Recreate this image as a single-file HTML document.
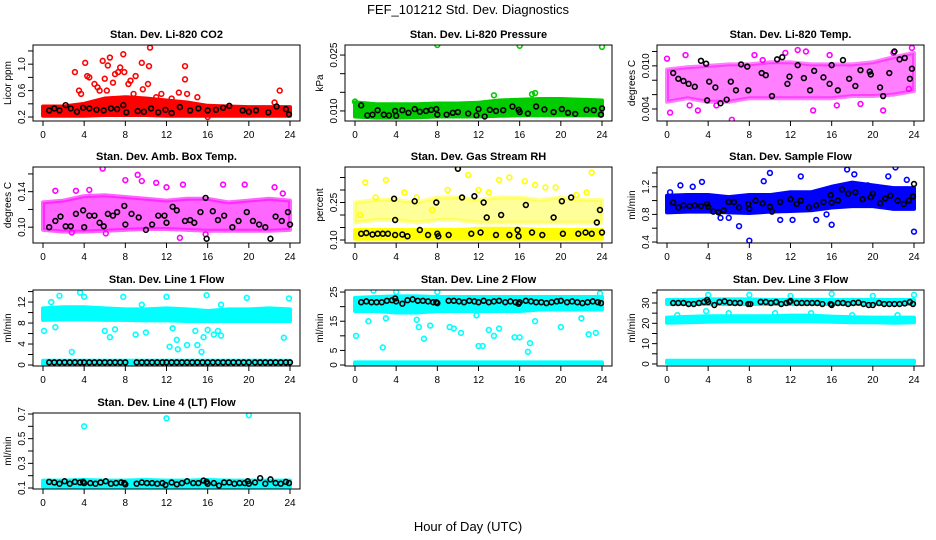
<!DOCTYPE html>
<html><head><meta charset="utf-8"><style>
body{margin:0;background:#fff}
svg{display:block}
text{font-family:"Liberation Sans",sans-serif}
</style></head><body>
<svg id="chart" width="936" height="540" xmlns="http://www.w3.org/2000/svg">
<text x="468" y="14" text-anchor="middle" font-size="13">FEF_101212  Std. Dev. Diagnostics</text>
<text x="468" y="531" text-anchor="middle" font-size="13">Hour of Day (UTC)</text>
</svg>
<script>
const bandHours=[0,2,4,6,8,10,12,14,16,18,20,22,24];
const xTicks=[0,4,8,12,16,20,24];
// P1 CO2
const p1BandLo=[0.22,0.22,0.22,0.23,0.23,0.23,0.22,0.22,0.22,0.22,0.22,0.22,0.22];
const p1BandHi=[0.36,0.36,0.40,0.48,0.50,0.48,0.45,0.42,0.37,0.36,0.35,0.35,0.35];
const p1OutX=[3.1,3.5,3.7,4.1,4.3,4.5,5,5.3,5.8,6,6.3,6.5,6.8,7,7.3,7.5,7.8,7.9,8.3,8.5,9,9.6,9.7,10.2,10.3,10.4,11.5,12.5,13.2,13.8,13.8,14,15,16,23,22.5,6.2,5.5,8.8,11];
const p1OutY=[0.88,0.6,0.55,1.02,0.82,0.8,0.7,0.65,1.05,0.78,0.98,1.1,0.72,0.85,0.88,0.95,1.15,0.88,0.7,0.75,0.82,1.02,0.62,0.7,0.97,1.25,0.55,0.48,0.57,0.97,0.77,0.55,0.5,0.2,0.6,0.42,0.6,0.6,0.55,0.5];
const p1BlkX=[0.6,1.1,1.6,2.2,2.7,3.3,3.9,4.5,5.2,5.9,6.6,7.2,7.8,8.1,9.2,9.8,10.5,11.2,11.9,12.5,13.3,14.3,15.1,16,16.8,17.5,18.1,19.4,20,20.7,21.9,22.7,23.6,23.9];
const p1BlkY=[0.3,0.33,0.3,0.38,0.33,0.28,0.34,0.33,0.31,0.3,0.33,0.32,0.38,0.27,0.29,0.28,0.33,0.27,0.31,0.26,0.35,0.3,0.33,0.3,0.31,0.34,0.37,0.3,0.28,0.3,0.27,0.36,0.32,0.24];
// P2 Pressure
const p2BandLo=[0.0085,0.0082,0.0082,0.0083,0.0085,0.0085,0.0085,0.0087,0.0088,0.0088,0.0088,0.0088,0.0088];
const p2BandHi=[0.0123,0.0118,0.0118,0.0118,0.012,0.012,0.0122,0.0128,0.013,0.0132,0.0132,0.013,0.0128];
const p2OutX=[0,8,16,24,17.5,13.5,17.2];
const p2OutY=[0.0125,0.0277,0.0275,0.0272,0.0148,0.0142,0.0145];
const p2BlkX=[0.6,1.2,1.7,2.2,2.8,3.3,3.9,4,4.6,5.2,5.8,6.3,6.9,7.4,7.9,8,8.9,9.5,10,11,11.8,12,12.6,13.1,13.7,14.4,15.3,15.9,16,16.8,17.6,18.4,19.3,20.1,20.7,21.4,22.5,23.2,23.9,24];
const p2BlkY=[0.0115,0.0088,0.009,0.0102,0.009,0.0088,0.01,0.0087,0.0102,0.0095,0.0105,0.0098,0.01,0.0103,0.0105,0.009,0.009,0.0095,0.0097,0.0093,0.0088,0.0105,0.0085,0.0103,0.01,0.0102,0.0112,0.0103,0.0097,0.0093,0.0112,0.0104,0.0097,0.0105,0.0095,0.0092,0.0103,0.0102,0.009,0.0107];
// P3 Li-820 Temp
const p3BandLo=[0.005,0.0055,0.005,0.005,0.0055,0.0055,0.0055,0.0055,0.0055,0.0058,0.0058,0.006,0.0065];
const p3BandHi=[0.0095,0.0098,0.01,0.0102,0.0102,0.0105,0.0105,0.0102,0.0102,0.0102,0.0105,0.0112,0.0118];
const p3OutX=[6.3,0.3,3,14.2,21,12.7,13.5,23.8,8.5,11.5,4.8,2.2,16.5,18.8,0,1.8,9.3,15.8,22,23.5];
const p3OutY=[0.0025,0.0035,0.0038,0.0038,0.0038,0.0122,0.012,0.0125,0.0115,0.0118,0.0045,0.0045,0.0045,0.0047,0.011,0.0115,0.0108,0.0115,0.0118,0.0068];
const p3BlkX=[0.6,1.1,1.6,2.1,2.7,3.3,3.8,3.9,4.1,4.7,5.2,5.8,6.2,6.7,7.2,7.8,7.9,9.2,9.6,10.2,10.7,11.2,11.7,11.9,12.7,13.3,13.9,14.3,15.2,15.8,16,16.6,17.1,17.7,18.3,18.8,19.7,19.8,20.7,21,21.6,22.1,22.6,23.1,23.6,23.8];
const p3BlkY=[0.009,0.0082,0.0079,0.0075,0.0071,0.0107,0.0103,0.0052,0.0078,0.007,0.0048,0.0053,0.0078,0.0066,0.0102,0.0099,0.0066,0.009,0.0087,0.0058,0.0109,0.0112,0.0075,0.0085,0.0101,0.0083,0.0066,0.0093,0.0084,0.0075,0.0101,0.0066,0.0108,0.0082,0.0072,0.0094,0.0092,0.0088,0.007,0.0058,0.009,0.012,0.0109,0.0111,0.0082,0.0096];
// P4 Amb Box Temp
const p4BandLo=[0.097,0.095,0.095,0.096,0.097,0.098,0.098,0.097,0.096,0.096,0.096,0.096,0.097];
const p4BandHi=[0.128,0.13,0.135,0.136,0.134,0.132,0.13,0.132,0.132,0.128,0.13,0.132,0.13];
const p4OutX=[5.8,9.2,8,1.2,13.6,15.8,11,19.6,22.5,4.5,12,13.3,3.2,9.6,17.5,23.3,6.1,2.8];
const p4OutY=[0.166,0.159,0.153,0.141,0.148,0.092,0.15,0.148,0.145,0.142,0.145,0.088,0.141,0.152,0.148,0.138,0.093,0.094];
const p4BlkX=[0.6,1.2,1.7,2.2,2.7,3.2,3.9,4,4.5,5,5.5,5.9,6.3,6.8,7.2,7.9,8,8.6,9.3,10,10.6,11.2,11.8,12,12.6,13,13.8,14.3,14.7,15.3,15.8,15.9,16.5,17,17.6,18.4,19,19.8,20.4,21,21.6,22.1,22.6,23.2,23.8,24];
const p4BlkY=[0.1,0.107,0.112,0.101,0.101,0.115,0.119,0.1,0.113,0.113,0.105,0.101,0.115,0.113,0.117,0.124,0.103,0.115,0.111,0.097,0.103,0.113,0.113,0.105,0.123,0.119,0.107,0.108,0.105,0.117,0.133,0.087,0.118,0.108,0.113,0.1,0.107,0.117,0.107,0.103,0.1,0.087,0.112,0.107,0.117,0.103];
// P5 Gas Stream RH
const p5BandLo=[0.105,0.105,0.105,0.105,0.105,0.105,0.105,0.105,0.105,0.105,0.105,0.105,0.105];
const p5BandHi=[0.14,0.14,0.14,0.14,0.14,0.14,0.145,0.145,0.145,0.14,0.14,0.14,0.14];
const p5Band2Lo=[0.17,0.18,0.18,0.17,0.18,0.18,0.17,0.17,0.17,0.17,0.17,0.17,0.17];
const p5Band2Hi=[0.25,0.26,0.26,0.25,0.27,0.27,0.26,0.27,0.27,0.26,0.27,0.26,0.26];
const p5OutX=[1,3,10,11,14,15,16.5,23,18.5,0.5,2,4.8,6,7.5,9,12,13,17.5,19.5,21.5,22.5];
const p5OutY=[0.33,0.34,0.385,0.36,0.34,0.35,0.335,0.37,0.31,0.2,0.27,0.29,0.27,0.22,0.3,0.3,0.29,0.32,0.31,0.28,0.29];
const p5BlkX=[0.6,1.1,1.7,2.2,2.7,3.2,3.8,3.9,3.9,4.6,5.1,5.8,6.3,7.1,7.9,8,8.1,9.1,10,10.4,11.3,11.6,12.2,12.5,12.8,13.7,14.2,15,15.8,15.9,16.6,17.2,18.2,19.3,20.1,20.2,21,21.7,22.4,23,23.5,23.8,24];
const p5BlkY=[0.125,0.128,0.122,0.125,0.125,0.125,0.265,0.18,0.12,0.122,0.115,0.255,0.14,0.12,0.25,0.125,0.115,0.12,0.385,0.27,0.125,0.275,0.13,0.25,0.19,0.12,0.2,0.12,0.14,0.115,0.24,0.13,0.12,0.19,0.255,0.125,0.27,0.125,0.13,0.125,0.17,0.22,0.13];
// P6 Sample Flow
const p6BandLo=[0.83,0.84,0.84,0.83,0.82,0.84,0.85,0.86,0.9,0.92,0.92,0.88,0.88];
const p6BandHi=[1.07,1.08,1.08,1.05,1.08,1.08,1.12,1.12,1.2,1.26,1.22,1.18,1.18];
const p6OutX=[8,24,16,7,11,14.5,10,17.5,22.2,21.5,3.4,6,12.2,0.3,1.3,9.4,13,18.2,19.5,23.3,2.5,5.2,15.5];
const p6OutY=[0.42,0.55,0.65,0.63,0.72,0.72,1.4,1.45,1.48,1.35,1.27,0.75,0.72,1.12,1.22,1.28,1.35,1.38,1.22,1.3,1.2,0.75,0.8];
const p6BlkX=[0.6,1.1,1.6,2.2,2.7,3.3,3.9,4,4.5,5,5.5,6,6.5,7,7.9,8,8.6,9.3,10,10.2,11,12,12.6,13,13.8,14.5,15.2,15.9,16,16.6,17,17.6,18.3,19,19.8,20,20.7,21.2,21.7,22.4,23,23.5,23.9,24];
const p6BlkY=[0.97,0.9,0.93,0.92,0.93,0.92,0.95,0.91,0.84,0.83,0.86,0.98,0.98,0.9,0.95,0.88,1.0,0.96,0.91,0.84,0.98,1.02,0.95,1.0,0.9,0.93,0.98,1.08,0.97,1.0,1.16,1.1,1.12,1.02,1.05,1.1,0.96,1.03,1.07,1.0,0.95,1.0,1.06,1.24];
// P7 Line 1 Flow
const p7BandLo=[8.6,8.7,8.7,8.6,8.6,8.5,8.5,8.4,8.4,8.4,8.4,8.4,8.4];
const p7BandHi=[10.8,11,11,10.8,10.6,10.6,10.8,10.6,10.3,10.6,10.6,10.8,10.6];
const p7Band2Lo=[0.2,0.2,0.2,0.2,0.2,0.2,0.2,0.2,0.2,0.2,0.2,0.2,0.2];
const p7Band2Hi=[0.8,0.8,0.8,0.8,0.8,0.8,0.8,0.8,0.8,0.8,0.8,0.8,0.8];
const p7OutX=[0.1,0.8,1.2,1.6,2.8,3.6,4,6,6.5,7,7.8,9,9.6,10,12,12.3,12.6,13,13.1,14,14.8,15,15.4,15.6,15.9,16,16.6,17,17.3,19.8,23.4,23.9,17.3];
const p7OutY=[6.5,12,7.2,13.2,2.5,13.8,13,6.5,5.3,6.8,13,5.8,11.5,6.2,13,3.5,7,4.8,3,3.8,6.5,3.8,2.5,5.3,13.3,6.7,5.8,6.5,5.6,12.8,5.2,12.7,11.5];
const p7BlkX=[0.6,1.1,1.6,2.1,2.6,3.1,3.6,4,4.5,5,5.5,6,6.5,7,7.5,8,9.1,9.6,10.1,10.6,11.1,11.6,12,12.5,13,13.5,14,14.5,15,15.5,16,16.5,17,17.5,18,18.5,19,19.5,20,20.6,21.1,21.6,22.1,22.6,23.1,23.6,24];
const p7BlkY=[0.5,0.5,0.5,0.5,0.5,0.5,0.5,0.5,0.5,0.5,0.5,0.5,0.5,0.5,0.5,0.5,0.5,0.5,0.5,0.5,0.5,0.5,0.5,0.5,0.5,0.5,0.5,0.5,0.5,0.5,0.5,0.5,0.5,0.5,0.5,0.5,0.5,0.5,0.5,0.5,0.5,0.5,0.5,0.5,0.5,0.5,0.5];
// P8 Line 2 Flow
const p8BandLo=[18.5,18.5,18,18,18.5,18.5,18.5,18.5,18.5,19,19,19,19];
const p8BandHi=[23,23.3,23.5,23.5,23.3,23.3,23.3,23.3,23.3,23.3,23.3,23.3,23.3];
const p8Band2Lo=[-0.1,-0.1,-0.1,-0.1,-0.1,-0.1,-0.1,-0.1,-0.1,-0.1,-0.1,-0.1,-0.1];
const p8Band2Hi=[0.9,0.9,0.9,0.9,0.9,0.9,0.9,0.9,0.9,0.9,0.9,0.9,0.9];
const p8OutX=[0.1,1.3,1.8,2.7,3,4,6,6.2,6.7,7.3,8,9.2,9.6,10.3,11.8,12,12.4,13,13.5,14,15.5,16,16.8,17,17.5,22,23.4,23.8,22.7,20];
const p8OutY=[10,15,25.5,6,16,25,15.5,13,9,13.5,25,13,12.5,11,17,6.5,6.5,12,10,12.5,9.5,9.5,4.5,7.5,15,16,11,24.5,10.5,13];
const p8BlkX=[0.6,1.1,1.6,2.1,2.6,3.1,3.6,3.9,4,4.6,5.1,5.6,6.1,6.6,7.1,7.6,7.9,8,9.1,9.6,10.1,10.6,11.1,11.6,12,12.5,13,13.5,14,14.6,15.1,15.6,15.9,16,16.6,17.1,17.6,18.1,18.6,19.1,19.6,20,20.6,21.1,21.6,22.1,22.6,23.1,23.6,23.9];
const p8BlkY=[21.5,21.8,21.5,21.5,21.5,22,22.2,22.8,21.8,21,22.2,22.5,22,22,21.8,21.5,21.5,21.2,22,22,21.8,21.5,22,21.8,21.5,22,21.5,21.8,22,21.5,21.8,21.5,21,21.5,22,21.8,21.5,21.5,21.2,21.5,21.8,22,21.5,21.8,21.5,21.2,21.5,21.8,21.5,21.2];
// P9 Line 3 Flow
const p9BandLo=[29.5,29.5,29.5,29.5,29.5,29.5,29.5,29.5,29.5,29.5,29.5,29.5,29.5];
const p9BandHi=[31.5,31.5,31.8,31.8,31.8,31.5,31.5,31.5,31.5,31.5,31.5,31.5,31.5];
const p9Band2Lo=[20.3,20.5,20.8,21,21,21,21,21,20.8,20.5,20.5,20.3,20.5];
const p9Band2Hi=[22.8,23.2,23.5,23.5,23.5,23.5,23.8,23.8,23.3,23,22.8,22.8,22.8];
const p9Band3Lo=[0.5,0.5,0.5,0.5,0.5,0.5,0.5,0.5,0.5,0.5,0.5,0.5,0.5];
const p9Band3Hi=[1.6,1.6,1.6,1.6,1.6,1.6,1.6,1.6,1.6,1.6,1.6,1.6,1.6];
const p9OutX=[4,8,12,16,20,24,1,6,10.5,14,18,22.4,3.8];
const p9OutY=[34,34,33.5,34.5,33.5,34,24,25,25,25,24,24,26];
const p9BlkX=[0.6,1.1,1.6,2.1,2.6,3.1,3.6,3.9,4,4.6,5.1,5.6,6.1,6.6,7.1,7.9,8.1,9.1,9.6,10.1,10.6,11.1,11.6,11.9,12,12.6,13.1,13.6,14.1,14.6,15.1,15.9,16,16.6,17.1,17.6,18.1,18.6,19.1,19.6,20,20.6,21.1,21.6,22.1,22.6,23.1,23.6,23.9];
const p9BlkY=[30,30,30,29.5,29.5,30,30.5,31.5,30.5,29,30.5,30.8,30.2,30,30,29.5,29.5,30.5,30.5,30,30.5,29.5,30,30.5,31,30,30,30,30,30,29.5,29.5,29,30,30,29.5,30,30.2,29.5,29,29,30,29.5,29.5,29.5,29.5,29.8,30.5,29.5];
// P10 Line 4 (LT) Flow
const p10BandLo=[0.11,0.11,0.11,0.11,0.11,0.11,0.11,0.11,0.11,0.11,0.11,0.11,0.11];
const p10BandHi=[0.16,0.16,0.165,0.16,0.16,0.165,0.16,0.16,0.165,0.16,0.16,0.16,0.16];
const p10OutX=[4,12,20];
const p10OutY=[0.6,0.665,0.69];
const p10BlkX=[0.6,1.1,1.6,2.1,2.6,3.1,3.6,3.9,4,4.6,5.1,5.6,6.1,6.6,7.1,7.6,7.9,8,9.1,9.6,10.1,10.6,11.1,11.6,11.9,12.5,13,13.5,14,14.6,15.1,15.6,15.9,16,16.6,17.1,17.6,18.1,18.6,19.1,19.6,19.9,20,20.6,21.1,21.6,22.1,22.6,23.1,23.6,23.9];
const p10BlkY=[0.15,0.145,0.135,0.155,0.135,0.15,0.145,0.15,0.14,0.14,0.135,0.145,0.155,0.135,0.14,0.145,0.14,0.13,0.135,0.145,0.14,0.14,0.135,0.14,0.125,0.145,0.13,0.14,0.155,0.14,0.14,0.16,0.15,0.135,0.14,0.12,0.145,0.145,0.135,0.14,0.14,0.155,0.135,0.145,0.18,0.135,0.17,0.14,0.135,0.15,0.14];

const panels=[
 {name:'co2',title:'Stan. Dev. Li-820 CO2',ylab:'Licor ppm',col:0,row:0,color:'#ff0000',ymin:0.14,ymax:1.29,ticks:[0.2,0.4,0.6,0.8,1.0,1.2],labels:['0.2','','0.6','','1.0',''],bands:[[p1BandLo,p1BandHi]],outX:p1OutX,outY:p1OutY,blkX:p1BlkX,blkY:p1BlkY},
 {name:'pressure',title:'Stan. Dev. Li-820 Pressure',ylab:'kPa',col:1,row:0,color:'#00cc00',ymin:0.0073,ymax:0.0277,ticks:[0.010,0.015,0.020,0.025],labels:['0.010','','','0.025'],bands:[[p2BandLo,p2BandHi]],outX:p2OutX,outY:p2OutY,blkX:p2BlkX,blkY:p2BlkY},
 {name:'li820-temp',title:'Stan. Dev. Li-820 Temp.',ylab:'degrees C',col:2,row:0,color:'#ff00ff',ymin:0.00233,ymax:0.0129,ticks:[0.004,0.006,0.008,0.010,0.012],labels:['0.004','','','0.010',''],bands:[[p3BandLo,p3BandHi]],outX:p3OutX,outY:p3OutY,blkX:p3BlkX,blkY:p3BlkY,bandOp:0.5},
 {name:'amb-box-temp',title:'Stan. Dev. Amb. Box Temp.',ylab:'degrees C',col:0,row:1,color:'#ff00ff',ymin:0.0822,ymax:0.1678,ticks:[0.10,0.12,0.14,0.16],labels:['0.10','','0.14',''],bands:[[p4BandLo,p4BandHi]],outX:p4OutX,outY:p4OutY,blkX:p4BlkX,blkY:p4BlkY,bandOp:0.6},
 {name:'gas-rh',title:'Stan. Dev. Gas Stream RH',ylab:'percent',col:1,row:1,color:'#ffff00',ymin:0.088,ymax:0.392,ticks:[0.10,0.15,0.20,0.25,0.30,0.35],labels:['0.10','','','0.25','',''],bands:[[p5BandLo,p5BandHi],[p5Band2Lo,p5Band2Hi,0.4]],outX:p5OutX,outY:p5OutY,blkX:p5BlkX,blkY:p5BlkY},
 {name:'sample-flow',title:'Stan. Dev. Sample Flow',ylab:'ml/min',col:2,row:1,color:'#0000ff',ymin:0.386,ymax:1.486,ticks:[0.4,0.6,0.8,1.0,1.2,1.4],labels:['0.4','','0.8','','1.2',''],bands:[[p6BandLo,p6BandHi]],outX:p6OutX,outY:p6OutY,blkX:p6BlkX,blkY:p6BlkY},
 {name:'line1-flow',title:'Stan. Dev. Line 1 Flow',ylab:'ml/min',col:0,row:2,color:'#00ffff',ymin:-0.19,ymax:14.3,ticks:[0,2,4,6,8,10,12,14],labels:['0','','4','','8','','12',''],bands:[[p7BandLo,p7BandHi],[p7Band2Lo,p7Band2Hi]],outX:p7OutX,outY:p7OutY,blkX:p7BlkX,blkY:p7BlkY},
 {name:'line2-flow',title:'Stan. Dev. Line 2 Flow',ylab:'ml/min',col:1,row:2,color:'#00ffff',ymin:-0.34,ymax:25.7,ticks:[0,5,10,15,20,25],labels:['0','5','','15','','25'],bands:[[p8BandLo,p8BandHi],[p8Band2Lo,p8Band2Hi]],outX:p8OutX,outY:p8OutY,blkX:p8BlkX,blkY:p8BlkY},
 {name:'line3-flow',title:'Stan. Dev. Line 3 Flow',ylab:'ml/min',col:2,row:2,color:'#00ffff',ymin:-1,ymax:36.4,ticks:[0,5,10,15,20,25,30,35],labels:['0','','10','','20','','30',''],bands:[[p9BandLo,p9BandHi],[p9Band2Lo,p9Band2Hi],[p9Band3Lo,p9Band3Hi]],outX:p9OutX,outY:p9OutY,blkX:p9BlkX,blkY:p9BlkY},
 {name:'line4-flow',title:'Stan. Dev. Line 4 (LT) Flow',ylab:'ml/min',col:0,row:3,color:'#00ffff',ymin:0.092,ymax:0.708,ticks:[0.1,0.2,0.3,0.4,0.5,0.6,0.7],labels:['0.1','','0.3','','0.5','','0.7'],bands:[[p10BandLo,p10BandHi]],outX:p10OutX,outY:p10OutY,blkX:p10BlkX,blkY:p10BlkY}
];
const NS='http://www.w3.org/2000/svg';
const svg=document.getElementById('chart');
const rowTops=[45,167,290,413];
function mk(tag,attrs,parent){const e=document.createElementNS(NS,tag);for(const k in attrs)e.setAttribute(k,attrs[k]);parent.appendChild(e);return e;}
panels.forEach(p=>{
 const L=33+312*p.col,R=L+267,T=rowTops[p.row],B=T+76;
 const xs=h=>L+10+h*247/24;
 const ys=v=>B-(v-p.ymin)/(p.ymax-p.ymin)*76;
 const g=mk('g',{},svg);
 
 
 const clip=mk('clipPath',{id:'c-'+p.name},g);
 mk('rect',{x:L,y:T,width:267,height:76},clip);
 const t=mk('text',{x:(L+R)/2,y:T-7,'text-anchor':'middle','font-size':'11','font-weight':'bold'},g);
 t.textContent=p.title;
 
 
 const yl=mk('text',{x:0,y:0,transform:`translate(${L-22},${(T+B)/2}) rotate(-90)`,'text-anchor':'middle','font-size':'10'},g);
 yl.textContent=p.ylab;
 
 
 const plot=mk('g',{'clip-path':`url(#c-${p.name})`},g);
 p.bands.forEach(b=>{
  const lo=b[0],hi=b[1],op=b[2]||p.bandOp||1;
  let pts=bandHours.map((h,i)=>xs(h)+','+ys(hi[i]));
  pts=pts.concat(bandHours.map((h,i)=>xs(h)+','+ys(lo[i])).reverse());
  const poly=mk('polygon',{points:pts.join(' '),fill:p.color,stroke:p.color,'stroke-width':4,'stroke-linejoin':'round','fill-opacity':op,'stroke-opacity':op},plot);
  
  
 });
 p.outX.forEach((h,i)=>{
  const c=mk('circle',{cx:xs(h),cy:ys(p.outY[i]),r:2.4,fill:'none',stroke:p.color,'stroke-width':1.6},plot);
  
  
 });
 p.blkX.forEach((h,i)=>{
  const c=mk('circle',{cx:xs(h),cy:ys(p.blkY[i]),r:2.4,fill:'none',stroke:'#000','stroke-width':1.6},plot);
  
  
 });
 const box=mk('rect',{x:L,y:T,width:267,height:76,fill:'none',stroke:'#000','stroke-width':1},g);
 
 
 xTicks.forEach(h=>{
  mk('line',{x1:xs(h),x2:xs(h),y1:B,y2:B+5,stroke:'#000'},g);
  const tx=mk('text',{x:xs(h),y:B+17,'text-anchor':'middle','font-size':'10'},g);
  tx.textContent=h;
  
  
 });
 p.ticks.forEach((v,i)=>{
  const y=ys(v);
  mk('line',{x1:L-5,x2:L,y1:y,y2:y,stroke:'#000'},g);
  if(p.labels[i]){
   const ty=mk('text',{x:0,y:0,transform:`translate(${L-8},${y}) rotate(-90)`,'text-anchor':'middle','font-size':'10'},g);
   ty.textContent=p.labels[i];
   
   
  }
 });
});
</script>
</body></html>
